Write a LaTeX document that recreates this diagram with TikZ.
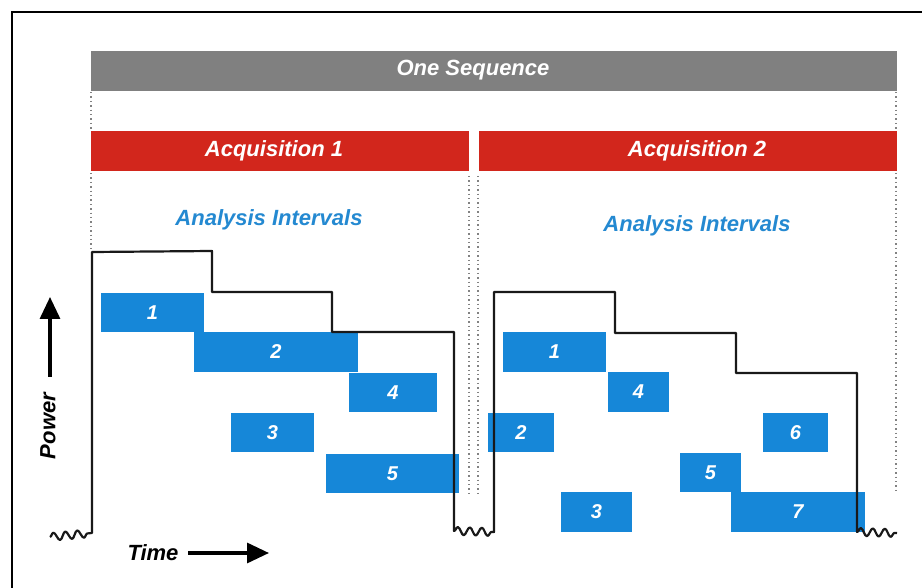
\documentclass[tikz,border=0pt]{standalone}
\usepackage{fontspec}
\setmainfont{Liberation Sans}
\usetikzlibrary{arrows.meta,decorations.pathmorphing}
\definecolor{seqgray}{RGB}{128,128,128}
\definecolor{acqred}{RGB}{210,38,28}
\definecolor{ivblue}{RGB}{22,135,216}
\definecolor{txtblue}{RGB}{36,137,209}
\definecolor{wave}{RGB}{25,25,25}
\definecolor{dotgray}{RGB}{130,130,130}
\tikzset{
  bar/.style={draw=none, inner sep=0pt, outer sep=0pt},
  bartext/.style={text=white, font=\fontsize{22}{24}\selectfont\bfseries\itshape, inner sep=0pt},
  ivbox/.style={fill=ivblue, draw=none, inner sep=0pt, outer sep=0pt,
    text=white, font=\fontsize{20}{22}\selectfont\bfseries\itshape},
  headtext/.style={text=txtblue, font=\fontsize{22}{24}\selectfont\bfseries\itshape, inner sep=0pt},
  axtext/.style={text=black, font=\fontsize{22}{24}\selectfont\bfseries\itshape, inner sep=0pt},
  guide/.style={draw=dotgray, line width=1.4pt, dash pattern=on 1.4pt off 3pt},
  trace/.style={draw=wave, line width=2.2pt, line join=round},
  squig/.style={decorate, decoration={snake, segment length=12pt, amplitude=4pt}},
  axarrow/.style={line width=3.2pt, -{Triangle[length=22pt,width=20pt]}},
}
\begin{document}
\begin{tikzpicture}[x=1pt,y=-1pt]
\useasboundingbox (0,0) rectangle (922,588);
\clip (0,0) rectangle (922,588);
\fill[white] (0,0) rectangle (922,588);
% outer frame (right and bottom edges outside the picture)
\draw[line width=2.8pt, black] (12,12) rectangle (935,600);

% bars
\node[bar, fill=seqgray, minimum width=806pt, minimum height=40pt] (seq) at (494,71) {};
\node[bartext] (seqt) at (473,70) {One Sequence};
\node[bar, fill=acqred, minimum width=378pt, minimum height=40pt] (acq1) at (280,151) {};
\node[bartext] (acq1t) at (274,151) {Acquisition 1};
\node[bar, fill=acqred, minimum width=418pt, minimum height=40pt] (acq2) at (688,151) {};
\node[bartext] (acq2t) at (697,151) {Acquisition 2};

% dotted guides
\draw[guide] (91,92) -- (91,131);
\draw[guide] (91,173) -- (91,250);
\draw[guide] (896,92) -- (896,131);
\draw[guide] (896,173) -- (896,490);
\draw[guide] (469,176) -- (469,493);
\draw[guide] (478,176) -- (478,493);

% headings
\node[headtext] (ai1) at (269,220) {Analysis Intervals};
\node[headtext] (ai2) at (697,226) {Analysis Intervals};

% analysis interval boxes, acquisition 1
\node[ivbox, minimum width=103pt, minimum height=39pt] (a1b1) at (152.5,312.5) {1};
\node[ivbox, minimum width=164pt, minimum height=40pt] (a1b2) at (276,352) {2};
\node[ivbox, minimum width=88pt, minimum height=39pt] (a1b4) at (393,392.5) {4};
\node[ivbox, minimum width=83pt, minimum height=39pt] (a1b3) at (272.5,432.5) {3};
\node[ivbox, minimum width=133pt, minimum height=39pt] (a1b5) at (392.5,473.5) {5};

% analysis interval boxes, acquisition 2
\node[ivbox, minimum width=103pt, minimum height=40pt] (a2b1) at (554.5,352) {1};
\node[ivbox, minimum width=61pt, minimum height=40pt] (a2b4) at (638.5,392) {4};
\node[ivbox, minimum width=66pt, minimum height=39pt] (a2b2) at (521,432.5) {2};
\node[ivbox, minimum width=65pt, minimum height=39pt] (a2b6) at (795.5,432.5) {6};
\node[ivbox, minimum width=61pt, minimum height=39pt] (a2b5) at (710.5,472.5) {5};
\node[ivbox, minimum width=71pt, minimum height=40pt] (a2b3) at (596.5,512) {3};
\node[ivbox, minimum width=134pt, minimum height=40pt] (a2b7) at (798,512) {7};

% power trace
\draw[trace] (50,537) decorate[squig] {-- (92,533)}
  -- (92,252) -- (212,251) -- (212,292) -- (332,292) -- (332,332) -- (454,332)
  -- (454,531) decorate[squig] {-- (494,532)}
  -- (494,292) -- (615,292) -- (615,333) -- (736,333) -- (736,373) -- (857,373)
  -- (857,532) decorate[squig] {-- (897,533)};

% axes labels
\coordinate (pwrA) at (50,377);
\coordinate (pwrB) at (50,297);
\draw[axarrow] (pwrA) -- (pwrB);
\node[axtext, rotate=90] (pwr) at (48,426) {Power};
\coordinate (timA) at (188,553);
\coordinate (timB) at (269,553);
\draw[axarrow] (timA) -- (timB);
\node[axtext] (tim) at (153,553) {Time};
\end{tikzpicture}
\end{document}
